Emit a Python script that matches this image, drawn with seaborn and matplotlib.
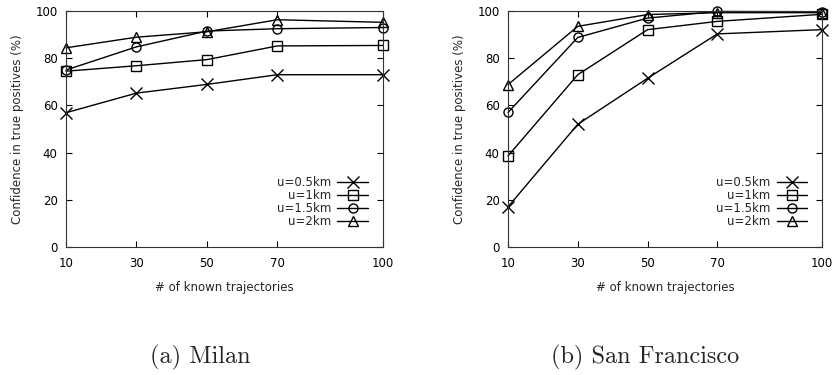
import matplotlib
matplotlib.use("Agg")
import matplotlib.pyplot as plt
import seaborn as sns
import pandas as pd

sns.set_style("ticks")
plt.rcParams['font.family'] = ['DejaVu Sans']

x_values = [10, 30, 50, 70, 100]
series_labels = ["u=0.5km", "u=1km", "u=1.5km", "u=2km"]

milan = {
    "u=0.5km": [56.9, 65.2, 68.9, 73.0, 73.0],
    "u=1km":   [74.5, 76.8, 79.4, 85.2, 85.4],
    "u=1.5km": [75.0, 84.8, 91.5, 92.5, 93.0],
    "u=2km":   [84.4, 88.9, 91.2, 96.3, 95.2],
}
sanfran = {
    "u=0.5km": [17.0, 52.0, 71.5, 90.3, 92.1],
    "u=1km":   [38.6, 73.0, 92.1, 95.6, 98.6],
    "u=1.5km": [57.0, 88.8, 97.0, 99.8, 99.7],
    "u=2km":   [68.8, 93.5, 98.5, 99.3, 99.3],
}
y_ticks = [0, 20, 40, 60, 80, 100]
captions = ["(a) Milan", "(b) San Francisco"]
xlabel = "# of known trajectories"
ylabel = "Confidence in true positives (%)"

markers = {"u=0.5km": "x", "u=1km": "s", "u=1.5km": "o", "u=2km": "^"}
msizes = {"u=0.5km": 8, "u=1km": 6.5, "u=1.5km": 6.5, "u=2km": 6.5}

fig = plt.figure(figsize=(8.33, 3.75), dpi=100)
ax1 = fig.add_axes([66/833, 1-247/375, (383-66)/833, (247-11)/375])
ax2 = fig.add_axes([508/833, 1-247/375, (822-508)/833, (247-11)/375])

for ax, data in [(ax1, milan), (ax2, sanfran)]:
    for lab in series_labels:
        df = pd.DataFrame({"x": x_values, "y": data[lab]})
        sns.lineplot(data=df, x="x", y="y", ax=ax, color="black", lw=1.0,
                     marker=markers[lab], markersize=msizes[lab],
                     markerfacecolor="none", markeredgecolor="black",
                     markeredgewidth=1.0, label=lab, clip_on=False)
    ax.set_xlim(10, 100)
    ax.set_ylim(0, 100)
    ax.set_xticks(x_values)
    ax.set_yticks(y_ticks)
    ax.tick_params(direction="in", length=4, width=0.8, top=True, right=True,
                   labelsize=8.5, colors="black", pad=7)
    ax.tick_params(axis="y", pad=6)
    for s in ax.spines.values():
        s.set_visible(True)
        s.set_linewidth(0.8)
        s.set_color("#333333")
    ax.set_xlabel(xlabel, fontsize=8.5, labelpad=8)
    ax.set_ylabel(ylabel, fontsize=8.5, labelpad=8)
    leg = ax.legend(loc="lower right", frameon=False, markerfirst=False,
                    fontsize=8.5, handlelength=2.6, labelspacing=0.0,
                    handletextpad=0.5, borderaxespad=0, borderpad=0,
                    bbox_to_anchor=(0.953, 0.08))
    for t in leg.get_texts():
        t.set_ha("right")

fig.text(200/833, 1-357/375, captions[0], family="cmr10", fontsize=17.5,
         ha="center", va="center")
fig.text(645/833, 1-357/375, captions[1], family="cmr10", fontsize=17.5,
         ha="center", va="center")

fig.savefig("out.png", dpi=100)
